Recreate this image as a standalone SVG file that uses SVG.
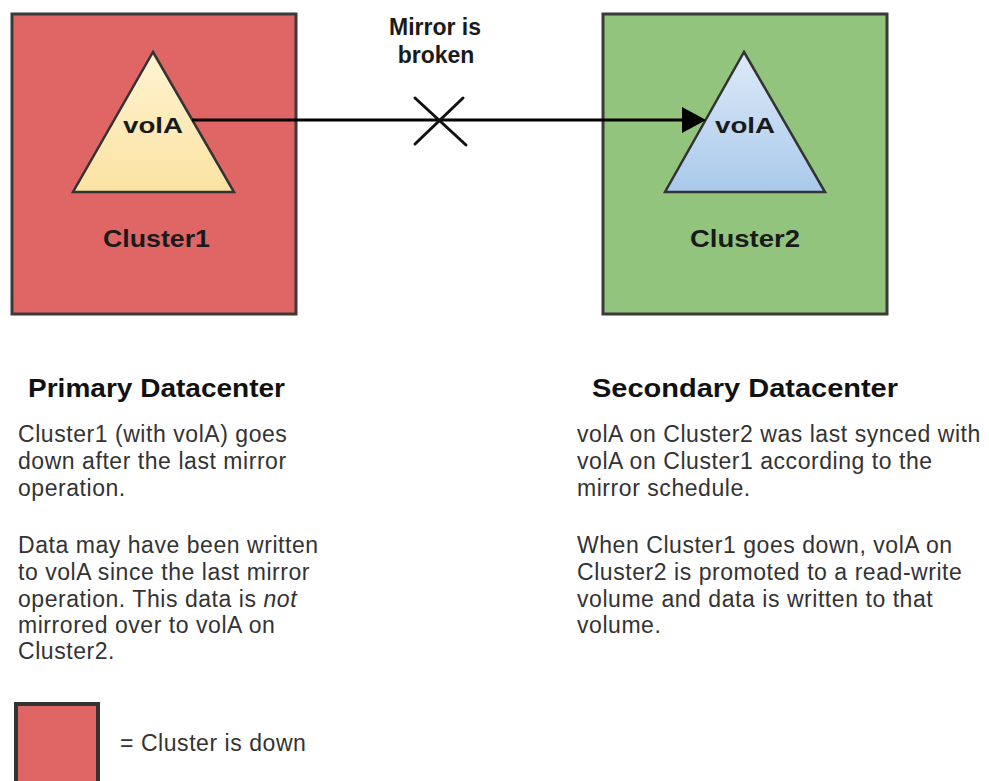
<svg xmlns="http://www.w3.org/2000/svg" width="989" height="781" viewBox="0 0 989 781">
  <style>
    .lbl { font-family: "Liberation Sans", Arial, sans-serif; font-weight: bold; fill: #1a1a1a; }
    .title { font-family: "Liberation Sans", Arial, sans-serif; font-weight: bold; font-size: 25px; fill: #111; }
    .body { font-family: "Liberation Sans", Arial, sans-serif; font-size: 23px; letter-spacing: 0.55px; fill: #333; }
    .box { stroke: #3a3a3a; stroke-width: 3; }
    .tri { stroke: #333; stroke-width: 2.5; stroke-linejoin: miter; }
  </style>
  <defs>
    <linearGradient id="gYellow" x1="0" y1="0" x2="0" y2="1">
      <stop offset="0" stop-color="#FFF3D2"/>
      <stop offset="1" stop-color="#FBE2A2"/>
    </linearGradient>
    <linearGradient id="gBlue" x1="0" y1="0" x2="0" y2="1">
      <stop offset="0" stop-color="#DDEAF9"/>
      <stop offset="1" stop-color="#A9C9EA"/>
    </linearGradient>
  </defs>
  <rect width="989" height="781" fill="#ffffff"/>

  <g id="cluster1">
    <rect class="box" x="12" y="14" width="284" height="300" fill="#E06666"/>
    <text class="lbl" x="156.5" y="247" font-size="23" text-anchor="middle" textLength="107" lengthAdjust="spacingAndGlyphs">Cluster1</text>
  </g>
  <g id="volA1">
    <polygon class="tri" points="153,52 234,192 73,192" fill="url(#gYellow)"/>
    <text class="lbl" x="153" y="133" font-size="22" text-anchor="middle" textLength="60" lengthAdjust="spacingAndGlyphs">volA</text>
  </g>

  <g id="cluster2">
    <rect class="box" x="603" y="14" width="284" height="300" fill="#93C47D"/>
    <text class="lbl" x="745" y="247" font-size="23" text-anchor="middle" textLength="110" lengthAdjust="spacingAndGlyphs">Cluster2</text>
  </g>
  <g id="volA2">
    <polygon class="tri" points="744,52 825,192 665,192" fill="url(#gBlue)"/>
    <text class="lbl" x="745" y="133" font-size="22" text-anchor="middle" textLength="60" lengthAdjust="spacingAndGlyphs">volA</text>
  </g>

  <g id="connectors">
    <line x1="192" y1="120" x2="684" y2="120" stroke="#000" stroke-width="3"/>
    <polygon points="682,107 706,120 682,133" fill="#000"/>
    <g id="broken-mark" stroke="#111" stroke-width="3" stroke-linecap="round">
      <line x1="415" y1="98" x2="466" y2="145"/>
      <line x1="463" y1="98" x2="415" y2="144"/>
    </g>
  </g>

  <g id="mirror-label">
    <text class="lbl" x="435" y="35" font-size="23" text-anchor="middle" fill="#222">Mirror is</text>
    <text class="lbl" x="436" y="63" font-size="23" text-anchor="middle" fill="#222">broken</text>
  </g>

  <g id="primary-text">
    <text class="title" x="28" y="397" textLength="257" lengthAdjust="spacingAndGlyphs">Primary Datacenter</text>
    <text class="body" x="18" y="442">Cluster1 (with volA) goes</text>
    <text class="body" x="18" y="469">down after the last mirror</text>
    <text class="body" x="18" y="496">operation.</text>
    <text class="body" x="18" y="553">Data may have been written</text>
    <text class="body" x="18" y="580">to volA since the last mirror</text>
    <text class="body" x="18" y="607">operation. This data is <tspan font-style="italic">not</tspan></text>
    <text class="body" x="18" y="633">mirrored over to volA on</text>
    <text class="body" x="18" y="659">Cluster2.</text>
  </g>

  <g id="secondary-text">
    <text class="title" x="592" y="397" textLength="306" lengthAdjust="spacingAndGlyphs">Secondary Datacenter</text>
    <text class="body" x="577" y="442">volA on Cluster2 was last synced with</text>
    <text class="body" x="577" y="469">volA on Cluster1 according to the</text>
    <text class="body" x="577" y="496">mirror schedule.</text>
    <text class="body" x="577" y="553">When Cluster1 goes down, volA on</text>
    <text class="body" x="577" y="580">Cluster2 is promoted to a read-write</text>
    <text class="body" x="577" y="607">volume and data is written to that</text>
    <text class="body" x="577" y="633">volume.</text>
  </g>

  <g id="legend">
    <rect x="16" y="704" width="82" height="90" fill="#E06666" stroke="#333" stroke-width="4"/>
    <text class="body" x="120" y="751">= Cluster is down</text>
  </g>
</svg>
